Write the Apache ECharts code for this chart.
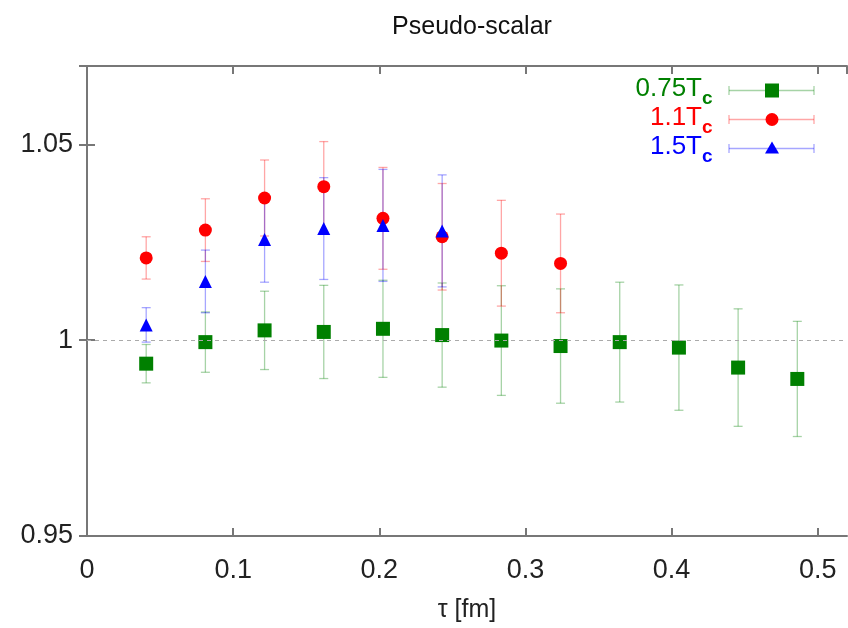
<!DOCTYPE html>
<html>
<head>
<meta charset="utf-8">
<script src="https://cdn.jsdelivr.net/npm/echarts@6/dist/echarts.min.js"></script>
<style>html,body{margin:0;padding:0;background:#fff}#c{width:848px;height:628px}</style>
</head>
<body>
<div id="c"></div>
<script>
// ---- data ----
const tau = [0.0405, 0.081, 0.1215, 0.162, 0.2025, 0.243, 0.2835, 0.324, 0.3645, 0.405, 0.4455, 0.486];
const g075 = [0.9940, 0.9995, 1.0025, 1.0021, 1.0029, 1.0013, 0.9999, 0.9985, 0.9995, 0.9981, 0.9930, 0.9901];
const g075Err = [0.0049, 0.0077, 0.0100, 0.0119, 0.0124, 0.0133, 0.0140, 0.0146, 0.0153, 0.0160, 0.0150, 0.0147];
const r11 = [1.0210, 1.0281, 1.0363, 1.0392, 1.0311, 1.0264, 1.0222, 1.0196];
const r11Err = [0.0054, 0.0080, 0.0097, 0.0115, 0.0130, 0.0136, 0.0135, 0.0126];
const b15 = [1.0039, 1.0150, 1.0257, 1.0285, 1.0293, 1.0279];
const b15Err = [0.0044, 0.0080, 0.0109, 0.0130, 0.0143, 0.0143];
const seriesNames = ['0.75T', '1.1T', '1.5T'];
const xTicks = [0, 0.1, 0.2, 0.3, 0.4, 0.5];
const yTicks = [0.95, 1, 1.05];

const GREEN = '#008000', RED = '#ff0000', BLUE = '#0000ff';
const FONT = 'Liberation Sans, Arial, sans-serif';

function pts(vals) { return vals.map((v, i) => [tau[i], v]); }
function errs(vals, e) { return vals.map((v, i) => [tau[i], v - e[i], v + e[i]]); }

function errSeries(data, color) {
  return {
    type: 'custom', xAxisIndex: 0, yAxisIndex: 0, silent: true, z: 2,
    data: data,
    renderItem: function (params, api) {
      const x = api.value(0);
      const lo = api.coord([x, api.value(1)]);
      const hi = api.coord([x, api.value(2)]);
      const w = 4.5;
      const st = { stroke: color, lineWidth: 1.3, opacity: 0.35 };
      return {
        type: 'group', children: [
          { type: 'line', shape: { x1: lo[0], y1: lo[1], x2: hi[0], y2: hi[1] }, style: st },
          { type: 'line', shape: { x1: lo[0] - w, y1: lo[1], x2: lo[0] + w, y2: lo[1] }, style: st },
          { type: 'line', shape: { x1: hi[0] - w, y1: hi[1], x2: hi[0] + w, y2: hi[1] }, style: st }
        ]
      };
    }
  };
}

const axisLine = { show: true, lineStyle: { color: '#777', width: 2 } };
const tickIn = { show: true, inside: true, length: 8, lineStyle: { color: '#777', width: 2 } };
const fmt = v => String(parseFloat(v.toFixed(3)));

// legend graphic
const legendRows = [
  { label: seriesNames[0], color: GREEN, sym: 'rect', y: 90.5 },
  { label: seriesNames[1], color: RED, sym: 'circle', y: 119.5 },
  { label: seriesNames[2], color: BLUE, sym: 'triangle', y: 148.5 }
];
const graphics = [];
legendRows.forEach(r => {
  graphics.push({ type: 'text', right: 848 - 702, top: r.y - 15,
    style: { text: r.label, fill: r.color, font: '26px ' + FONT, textAlign: 'right' } });
  graphics.push({ type: 'text', left: 702, top: r.y - 1,
    style: { text: 'c', fill: r.color, font: 'bold 19px ' + FONT } });
  const st = { stroke: r.color, lineWidth: 1.3, opacity: 0.35 };
  graphics.push({ type: 'line', shape: { x1: 729, y1: r.y, x2: 814, y2: r.y }, style: st });
  graphics.push({ type: 'line', shape: { x1: 729, y1: r.y - 4.5, x2: 729, y2: r.y + 4.5 }, style: st });
  graphics.push({ type: 'line', shape: { x1: 814, y1: r.y - 4.5, x2: 814, y2: r.y + 4.5 }, style: st });
  if (r.sym === 'rect') graphics.push({ type: 'rect', shape: { x: 765, y: r.y - 7, width: 14, height: 14 }, style: { fill: r.color } });
  if (r.sym === 'circle') graphics.push({ type: 'circle', shape: { cx: 772, cy: r.y, r: 6.5 }, style: { fill: r.color } });
  if (r.sym === 'triangle') graphics.push({ type: 'polygon', shape: { points: [[772, r.y - 7], [765, r.y + 5], [779, r.y + 5]] }, style: { fill: r.color } });
});

const chart = echarts.init(document.getElementById('c'), null, { renderer: 'canvas' });
chart.setOption({
  animation: false,
  backgroundColor: '#fff',
  title: { text: 'Pseudo-scalar', left: 467, top: 10, textAlign: 'center',
    textStyle: { fontFamily: FONT, fontSize: 25, fontWeight: 'normal', color: '#111' } },
  grid: { left: 87, right: 1, top: 66, bottom: 86 },
  xAxis: [
    { type: 'value', min: 0, max: 0.52, interval: 0.1, position: 'bottom',
      name: 'τ [fm]', nameLocation: 'middle', nameGap: 62,
      nameTextStyle: { fontFamily: FONT, fontSize: 25, color: '#222' },
      axisLine: axisLine, axisTick: tickIn, splitLine: { show: false },
      axisLabel: { fontFamily: FONT, fontSize: 27, color: '#222', margin: 21, formatter: fmt, showMaxLabel: false } },
    { type: 'value', min: 0, max: 0.52, interval: 0.1, position: 'top',
      axisLine: axisLine, axisTick: tickIn, splitLine: { show: false }, axisLabel: { show: false } }
  ],
  yAxis: [
    { type: 'value', min: 0.95, max: 1.07, interval: 0.05, position: 'left',
      axisLine: axisLine, axisTick: tickIn, splitLine: { show: false },
      axisLabel: { fontFamily: FONT, fontSize: 27, color: '#222', margin: 14, formatter: fmt, showMaxLabel: false } },
    { type: 'value', min: 0.95, max: 1.07, interval: 0.05, position: 'right',
      axisLine: axisLine, axisTick: tickIn, splitLine: { show: false }, axisLabel: { show: false } }
  ],
  graphic: graphics,
  series: [
    errSeries(errs(g075, g075Err), GREEN),
    errSeries(errs(r11, r11Err), RED),
    errSeries(errs(b15, b15Err), BLUE),
    { type: 'scatter', name: '0.75Tc', data: pts(g075), symbol: 'rect', symbolSize: 14, z: 3,
      itemStyle: { color: GREEN, opacity: 1 },
      markLine: { silent: true, symbol: 'none', label: { show: false },
        lineStyle: { color: '#aaa', type: [4, 4], width: 1 }, data: [{ yAxis: 1 }] } },
    { type: 'scatter', name: '1.1Tc', data: pts(r11), symbol: 'circle', symbolSize: 13, z: 4,
      itemStyle: { color: RED, opacity: 1 } },
    { type: 'scatter', name: '1.5Tc', data: pts(b15), symbol: 'triangle', symbolSize: 13, z: 5,
      itemStyle: { color: BLUE, opacity: 1 } }
  ]
});
</script>
</body>
</html>
